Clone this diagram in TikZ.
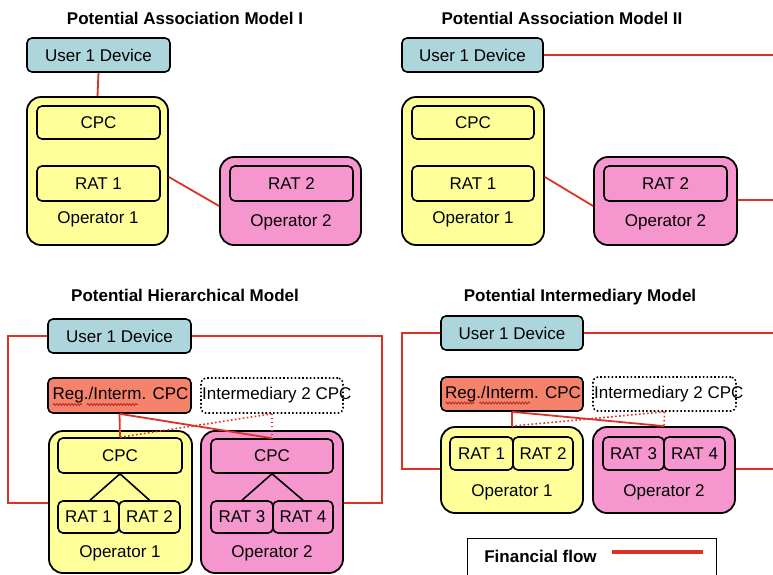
\documentclass[tikz,border=0pt]{standalone}
\usepackage{fontspec}
\setmainfont{Liberation Sans}
\usetikzlibrary{decorations.pathmorphing}
\definecolor{userblue}{RGB}{172,214,220}
\definecolor{opyellow}{RGB}{255,255,153}
\definecolor{oppink}{RGB}{246,150,206}
\definecolor{regsalmon}{RGB}{245,130,106}
\definecolor{flowred}{RGB}{220,50,36}
\definecolor{spellred}{RGB}{180,40,30}
\begin{document}
\begin{tikzpicture}[x=1pt,y=-1pt,
  font=\fontsize{17}{20}\selectfont,
  box/.style={draw=black, line width=1.6pt, rounded corners=5pt, inner sep=0pt},
  userbox/.style={box, fill=userblue},
  ybox/.style={box, fill=opyellow},
  pbox/.style={box, fill=oppink},
  regbox/.style={box, fill=regsalmon},
  dotbox/.style={draw=black, line width=1.6pt, dash pattern=on 1.6pt off 2.2pt, rounded corners=5pt, inner sep=0pt},
  opyel/.style={draw=black, line width=1.8pt, rounded corners=14pt, fill=opyellow, inner sep=0pt},
  oppk/.style={draw=black, line width=1.8pt, rounded corners=14pt, fill=oppink, inner sep=0pt},
  title/.style={font=\fontsize{17}{20}\selectfont\bfseries},
  flow/.style={draw=flowred, line width=1.8pt},
  flowdot/.style={draw=flowred, line width=1.6pt, dash pattern=on 1.6pt off 2.4pt},
  tree/.style={draw=black, line width=1.6pt},
  squig/.style={draw=spellred, line width=0.8pt, decorate, decoration={snake, amplitude=1pt, segment length=3pt}}
]
\useasboundingbox (0,0) rectangle (773,574);

% ---------------- Association Model I ----------------
\node[title] (t1) at (185,18) {Potential Association Model I};
\node[userbox, minimum width=143pt, minimum height=34pt] (u1) at (98.5,55) {User 1 Device};
\node[opyel, minimum width=141pt, minimum height=148pt] (a1op1) at (97.5,171) {};
\node[ybox, minimum width=123pt, minimum height=33pt] (a1cpc) at (98.5,122.5) {CPC};
\node[ybox, minimum width=123pt, minimum height=35pt] (a1rat1) at (98.5,183.5) {RAT 1};
\node (a1l1) at (98,219) {Operator 1};
\node[oppk, minimum width=141pt, minimum height=88pt] (a1op2) at (290.5,201) {};
\node[pbox, minimum width=123pt, minimum height=35pt] (a1rat2) at (291.5,183.5) {RAT 2};
\node (a1l2) at (291,222) {Operator 2};
\draw[flow] (u1.south) -- (a1op1.north);
\draw[flow] ([yshift=-6pt]a1op1.east) -- ([yshift=-5pt]a1op2.west);

% ---------------- Association Model II ----------------
\node[title] (t2) at (562,18) {Potential Association Model II};
\node[userbox, minimum width=141pt, minimum height=34pt] (u2) at (472.5,55) {User 1 Device};
\node[opyel, minimum width=142pt, minimum height=148pt] (a2op1) at (473,171) {};
\node[ybox, minimum width=122pt, minimum height=33pt] (a2cpc) at (473,122.5) {CPC};
\node[ybox, minimum width=122pt, minimum height=35pt] (a2rat1) at (473,183.5) {RAT 1};
\node (a2l1) at (473,219) {Operator 1};
\node[oppk, minimum width=143pt, minimum height=88pt] (a2op2) at (665.5,201) {};
\node[pbox, minimum width=123pt, minimum height=35pt] (a2rat2) at (665.5,183.5) {RAT 2};
\node (a2l2) at (665.5,222) {Operator 2};
\coordinate (a2e1) at (775,55);
\coordinate (a2e2) at (775,200);
\draw[flow] (u2.east) -- (a2e1);
\draw[flow] ([yshift=-6pt]a2op1.east) -- ([yshift=-5pt]a2op2.west);
\draw[flow] ([yshift=1pt]a2op2.east) -- (a2e2);

% ---------------- Hierarchical Model ----------------
\node[title] (t3) at (185,295) {Potential Hierarchical Model};
\node[userbox, minimum width=143pt, minimum height=34pt] (u3) at (119.5,336) {User 1 Device};
\node[regbox, minimum width=143pt, minimum height=35pt] (h3reg) at (119.5,395.5) {};
\node[anchor=west, inner sep=0pt] (h3regt) at (52.5,395.5) {Reg./Interm. CPC};
\draw[squig] (53,404.5) -- (82,404.5);
\draw[squig] (87,404.5) -- (138,404.5);
\node[dotbox, minimum width=142pt, minimum height=35pt] (h3int) at (272,395.5) {};
\node[anchor=west, inner sep=0pt] (h3intt) at (202,395.5) {Intermediary 2 CPC};
\node[opyel, minimum width=143pt, minimum height=142pt] (h3op1) at (120.5,502) {};
\node[ybox, minimum width=124pt, minimum height=35pt] (h3cpc1) at (120,455.5) {CPC};
\node[ybox, minimum width=61pt, minimum height=32pt] (h3rat1) at (88.5,517) {RAT 1};
\node[ybox, minimum width=61pt, minimum height=32pt] (h3rat2) at (149.5,517) {RAT 2};
\node (h3l1) at (120,553) {Operator 1};
\node[oppk, minimum width=142pt, minimum height=142pt] (h3op2) at (272,502) {};
\node[pbox, minimum width=122pt, minimum height=34pt] (h3cpc2) at (272,456) {CPC};
\node[pbox, minimum width=62pt, minimum height=32pt] (h3rat3) at (242,517) {RAT 3};
\node[pbox, minimum width=60pt, minimum height=32pt] (h3rat4) at (303,517) {RAT 4};
\node (h3l2) at (272,553) {Operator 2};
\draw[tree] (h3cpc1.south) -- ([xshift=1.5pt]h3rat1.north);
\draw[tree] (h3cpc1.south) -- (h3rat2.north);
\draw[tree] (h3cpc2.south) -- (h3rat3.north);
\draw[tree] (h3cpc2.south) -- (h3rat4.north);
\draw[flow] (u3.west) -- (8,336) -- (8,503) -- ([yshift=-1pt]h3op1.west);
\draw[flow] (u3.east) -- (382,336) -- (382,503) -- ([yshift=-1pt]h3op2.east);
\draw[flow] (h3reg.south) -- (h3cpc1.north);
\draw[flow] (h3reg.south) -- (h3cpc2.north);
\draw[flowdot] (h3int.south) -- (h3cpc2.north);
\draw[flowdot] (h3int.south) -- (h3cpc1.north);

% ---------------- Intermediary Model ----------------
\node[title] (t4) at (580,297) {Potential Intermediary Model};
\node[userbox, minimum width=142pt, minimum height=34pt] (u4) at (512,333) {User 1 Device};
\node[regbox, minimum width=142pt, minimum height=34pt] (i4reg) at (512,394) {};
\node[anchor=west, inner sep=0pt] (i4regt) at (445,394) {Reg./Interm. CPC};
\draw[squig] (445.5,403) -- (474.5,403);
\draw[squig] (479.5,403) -- (530.5,403);
\node[dotbox, minimum width=143pt, minimum height=34pt] (i4int) at (664.5,394) {};
\node[anchor=west, inner sep=0pt] (i4intt) at (594,394) {Intermediary 2 CPC};
\node[opyel, minimum width=142pt, minimum height=86pt] (i4op1) at (512,470) {};
\node[ybox, minimum width=63pt, minimum height=33pt] (i4rat1) at (481.5,453.5) {RAT 1};
\node[ybox, minimum width=60pt, minimum height=33pt] (i4rat2) at (543,453.5) {RAT 2};
\node (i4l1) at (512,492) {Operator 1};
\node[oppk, minimum width=142pt, minimum height=86pt] (i4op2) at (664,470) {};
\node[pbox, minimum width=61pt, minimum height=33pt] (i4rat3) at (633.5,453.5) {RAT 3};
\node[pbox, minimum width=61pt, minimum height=33pt] (i4rat4) at (694.5,453.5) {RAT 4};
\node (i4l2) at (664,492) {Operator 2};
\coordinate (i4e1) at (775,333);
\coordinate (i4e2) at (775,469);
\draw[flow] (u4.west) -- (402,333) -- (402,469) -- ([yshift=1pt]i4op1.west);
\draw[flow] (u4.east) -- (i4e1);
\draw[flow] ([yshift=1pt]i4op2.east) -- (i4e2);
\draw[flow] (i4reg.south) -- (i4op1.north);
\draw[flow] (i4reg.south) -- (i4op2.north);
\draw[flowdot] (i4int.south) -- (i4op2.north);
\draw[flowdot] (i4int.south) -- (i4op1.north);

% ---------------- Legend ----------------
\node[draw=black, line width=1.4pt, minimum width=249pt, minimum height=46pt, anchor=north west, inner sep=0pt] (legend) at (467,538) {};
\node[font=\fontsize{17}{20}\selectfont\bfseries] (legt) at (540.5,556) {Financial flow};
\coordinate (lga) at (612,552);
\coordinate (lgb) at (703,552);
\draw[draw=flowred, line width=4pt] (lga) -- (lgb);
\end{tikzpicture}
\end{document}
